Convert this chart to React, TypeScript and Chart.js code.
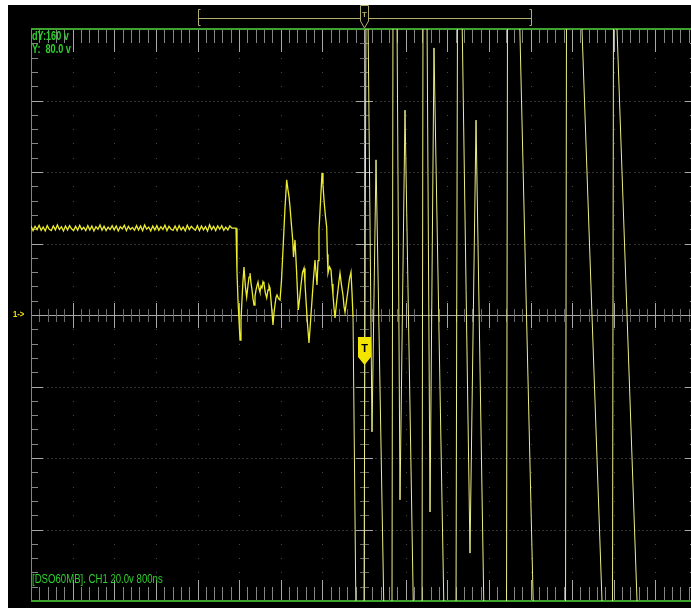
import { useEffect, useRef } from "react";
import { Chart, registerables } from "chart.js";

Chart.register(...registerables);

// Scope settings
const TIME_PER_DIV_NS = 800;
const VOLTS_PER_DIV = 20;
const H_DIVS = 16;
const V_DIVS = 8;
const SUBDIVS = 5;

const STATUS_LINES = ["dY:160 v", "Y:  80.0 v"];
const FOOTER_LABEL = "[DSO60MB]. CH1 20.0v 800ns";
const CHANNEL_MARK = "1->";
const TRIGGER_MARK = "T";

// Idle level before the event, one sample every 39 ns from the left edge
const IDLE_START_NS = -6400;
const IDLE_STEP_NS = 39;
const IDLE_VOLTS = [
  24.9, 23.6, 24.8, 23.9, 25.1, 23.7, 24.6, 23.5, 25.0, 24.0,
  23.6, 24.9, 23.8, 25.2, 23.9, 24.7, 23.5, 24.9, 23.8, 25.0,
  24.1, 23.6, 24.8, 23.7, 25.1, 23.9, 24.5, 23.6, 25.0, 23.8,
  24.9, 23.5, 24.7, 24.0, 25.2, 23.7, 24.8, 23.6, 24.6, 23.9,
  25.0, 23.8, 24.9, 23.5, 24.7, 24.1, 25.1, 23.6, 24.8, 23.9,
  24.5, 23.7, 25.0, 23.8, 24.9, 23.6, 25.2, 24.0, 24.6, 23.5,
  24.9, 23.8, 25.0, 23.7, 24.7, 23.9, 25.1, 23.6, 24.8, 24.0,
  23.7, 24.9, 23.6, 25.0, 23.8, 24.6, 23.5, 25.1, 23.9, 24.8,
  24.2, 23.7, 25.0, 23.6, 24.9, 23.8, 24.7, 23.5, 25.2, 23.9,
  24.8, 23.6, 24.9, 24.0, 25.0, 23.7, 24.6, 23.8, 24.9, 24.3,
];

// Ringing after the first drop
const RING_TIMES_NS = [
  -2460, -2441, -2422, -2383, -2364, -2345, -2326, -2306, -2280, -2255,
  -2229, -2210, -2191, -2172, -2152, -2133, -2114, -2095, -2075, -2056,
  -2037, -2018, -1999, -1980, -1960, -1941, -1922, -1896, -1870, -1845,
  -1826, -1807, -1778, -1749, -1730, -1711, -1691, -1672, -1643, -1614,
  -1585, -1557, -1520, -1486, -1461, -1441, -1422, -1396, -1370, -1355,
  -1340, -1326, -1297, -1263, -1237, -1211, -1182, -1153, -1134, -1115,
  -1086, -1057, -1028, -999, -970, -942, -922, -903, -884, -865,
  -836, -807, -788, -769, -743, -717, -705, -692, -663, -634,
  -615, -596, -577, -557, -528, -500, -480, -461, -432, -404,
  -384, -365, -336, -307, -279, -250, -230, -211,
];
const RING_VOLTS = [
  24.3, 12.0, 4.2, -7.0, -1.5, 4.2, 9.5, 13.4, 8.0, 5.0,
  8.4, 10.6, 11.7, 9.0, 7.0, 4.5, 2.8, 5.2, 7.0, 8.2,
  9.2, 7.4, 6.4, 8.1, 7.6, 9.3, 8.7, 6.2, 4.8, 7.0,
  8.3, 7.6, 2.5, -2.8, 0.6, 2.8, 4.9, 5.6, 4.6, 4.2,
  9.8, 18.2, 29.5, 37.8, 35.0, 33.1, 30.2, 25.5, 21.0, 16.2,
  18.8, 21.0, 12.6, 1.4, 4.6, 8.4, 11.9, 13.1, 8.8, 4.2,
  -2.5, -7.8, -1.9, 4.2, 10.3, 15.4, 11.8, 8.4, 15.2, 23.8,
  31.6, 39.7, 36.4, 32.2, 27.9, 24.6, 17.0, 11.7, 13.5, 12.6,
  8.7, 5.6, 2.1, -0.8, 3.4, 7.0, 9.6, 11.7, 8.3, 5.6,
  2.4, 0.8, 3.9, 7.0, 10.2, 12.0, 6.1, -0.6,
];

// Swing after the trigger; ±84 V is past the edge of the screen
const SWING_TIMES_NS = [
  -154, 0, 38, 77, 154, 231, 384, 538, 557, 634,
  692, 788, 951, 1115, 1134, 1211, 1269, 1345, 1538, 1768,
  1797, 1884, 2037, 2153, 2306, 2739, 2758, 2989, 3258, 3873,
  3892, 4180, 4584, 4776, 4795, 4853, 5257, 6458,
];
const SWING_VOLTS = [
  -84, -84, 84, 84, -32.7, 43.4, -84, -84, 84, 84,
  -51.7, 57.3, -84, -84, 84, 84, -55.1, 74.7, -84, -84,
  84, 84, -66.6, 54.5, -84, -84, 84, 84, -84, -84,
  84, 84, -84, -84, 84, 84, -84, -84,
];

const COLORS = {
  screen: "#000000",
  gridDot: "#484848",
  gridDash: "#333333",
  axis: "#a8a8a8",
  axisMinor: "#6a6a6a",
  tick: "#858585",
  tickMajor: "#a8a8a8",
  frame: "#3fa42f",
  text: "#2fcf2f",
  trace: "#ecec30",
  traceFast: "#eeee86",
  marker: "#f2e600",
  bracket: "#b4ae6e",
};

const TEXT_FONT = '"Liberation Sans", Arial, sans-serif';

// Draw text squeezed horizontally, like the scope's narrow readout font
function narrowText(ctx: CanvasRenderingContext2D, s: string, x: number, y: number, squeeze: number) {
  ctx.save();
  ctx.translate(x, y);
  ctx.scale(squeeze, 1);
  ctx.fillText(s, 0, 0);
  ctx.restore();
}

const scopeScreen = {
  id: "scopeScreen",
  beforeDraw(chart: any) {
    const { ctx, width, height } = chart;
    ctx.save();
    ctx.fillStyle = COLORS.screen;
    ctx.fillRect(0, 0, width, height);
    ctx.restore();
  },
  beforeDatasetsDraw(chart: any) {
    const { ctx, chartArea: a } = chart;
    const xs = chart.scales.x;
    const ys = chart.scales.y;
    const px = (t: number) => Math.round(xs.getPixelForValue(t));
    const py = (v: number) => Math.round(ys.getPixelForValue(v));
    const x0 = xs.min;
    const y0 = ys.min;
    const xMinor = TIME_PER_DIV_NS / SUBDIVS;
    const yMinor = VOLTS_PER_DIV / SUBDIVS;
    const cx = px(0);
    const cy = py(0);

    ctx.save();
    // dotted graticule
    ctx.fillStyle = COLORS.gridDot;
    for (let i = 1; i < H_DIVS; i++) {
      if (i === H_DIVS / 2) continue;
      const gx = px(x0 + i * TIME_PER_DIV_NS);
      for (let j = 1; j < V_DIVS * SUBDIVS; j++) {
        ctx.fillRect(gx, py(y0 + j * yMinor), 1, 1);
      }
    }
    ctx.fillStyle = COLORS.gridDash;
    for (let j = 1; j < V_DIVS; j++) {
      if (j === V_DIVS / 2) continue;
      const gy = py(y0 + j * VOLTS_PER_DIV);
      for (let i = 1; i < H_DIVS * SUBDIVS * 2; i++) {
        ctx.fillRect(px(x0 + (i * xMinor) / 2) - 1, gy, 2, 1);
      }
    }

    // centre cross
    ctx.lineWidth = 1;
    ctx.strokeStyle = COLORS.axis;
    ctx.beginPath();
    ctx.moveTo(a.left, cy + 0.5);
    ctx.lineTo(a.right, cy + 0.5);
    ctx.moveTo(cx + 0.5, a.top);
    ctx.lineTo(cx + 0.5, a.bottom);
    ctx.stroke();

    const line = (x1: number, y1: number, x2: number, y2: number, color: string) => {
      ctx.strokeStyle = color;
      ctx.beginPath();
      ctx.moveTo(x1, y1);
      ctx.lineTo(x2, y2);
      ctx.stroke();
    };

    for (let i = 1; i < H_DIVS * SUBDIVS; i++) {
      const tx = px(x0 + i * xMinor) + 0.5;
      const major = i % SUBDIVS === 0;
      const half = major ? 12 : 6;
      line(tx, cy - half, tx, cy + half + 1, major ? COLORS.axis : COLORS.axisMinor);
      // top and bottom edge ticks
      line(tx, a.top, tx, a.top + (major ? 23 : 14), major ? COLORS.tickMajor : COLORS.tick);
      line(tx, a.bottom, tx, a.bottom - (major ? 21 : 14), major ? COLORS.tickMajor : COLORS.tick);
    }
    for (let j = 1; j < V_DIVS * SUBDIVS; j++) {
      const ty = py(y0 + j * yMinor) + 0.5;
      const major = j % SUBDIVS === 0;
      const half = major ? 8 : 4;
      line(cx - half, ty, cx + half + 1, ty, major ? COLORS.axis : COLORS.axisMinor);
      // left and right edge ticks
      line(a.left, ty, a.left + (major ? 12 : 7), ty, major ? COLORS.tickMajor : COLORS.tick);
      line(a.right, ty, a.right - (major ? 12 : 7), ty, major ? COLORS.tickMajor : COLORS.tick);
    }

    // frame
    line(a.left + 0.5, a.top, a.left + 0.5, a.bottom, COLORS.tick);
    line(a.right - 0.5, a.top, a.right - 0.5, a.bottom, COLORS.tick);
    ctx.fillStyle = COLORS.frame;
    ctx.fillRect(a.left, a.top - 1, a.right - a.left, 2);
    ctx.fillRect(a.left, a.bottom - 1, a.right - a.left, 2);
    ctx.restore();
  },
  afterDraw(chart: any) {
    const { ctx, chartArea: a } = chart;
    const xs = chart.scales.x;
    const ys = chart.scales.y;
    const cx = Math.round(xs.getPixelForValue(0));
    const cy = Math.round(ys.getPixelForValue(0));

    ctx.save();
    // record window bracket above the screen
    const quarter = (a.right - a.left) / 4;
    const bl = Math.round(cx - quarter) + 0.5;
    const br = Math.round(cx + quarter) + 0.5;
    const by = a.top - 10.5;
    ctx.strokeStyle = COLORS.bracket;
    ctx.lineWidth = 1;
    ctx.beginPath();
    ctx.moveTo(bl + 2, a.top - 19.5);
    ctx.lineTo(bl, a.top - 19.5);
    ctx.lineTo(bl, a.top - 3.5);
    ctx.lineTo(bl + 2, a.top - 3.5);
    ctx.moveTo(br - 2, a.top - 19.5);
    ctx.lineTo(br, a.top - 19.5);
    ctx.lineTo(br, a.top - 3.5);
    ctx.lineTo(br - 2, a.top - 3.5);
    ctx.moveTo(bl, by);
    ctx.lineTo(cx - 4, by);
    ctx.moveTo(cx + 5, by);
    ctx.lineTo(br, by);
    ctx.stroke();

    // trigger position flag
    ctx.fillStyle = COLORS.screen;
    ctx.beginPath();
    ctx.moveTo(cx - 3.5, a.top - 23.5);
    ctx.lineTo(cx + 4.5, a.top - 23.5);
    ctx.lineTo(cx + 4.5, a.top - 8);
    ctx.lineTo(cx + 0.5, a.top - 1);
    ctx.lineTo(cx - 3.5, a.top - 8);
    ctx.closePath();
    ctx.fill();
    ctx.stroke();
    ctx.fillStyle = COLORS.bracket;
    ctx.font = "bold 8px " + TEXT_FONT;
    ctx.textAlign = "center";
    ctx.textBaseline = "alphabetic";
    ctx.fillText(TRIGGER_MARK, cx + 0.5, a.top - 12);

    // trigger level flag
    ctx.fillStyle = COLORS.marker;
    ctx.beginPath();
    ctx.moveTo(cx - 6, cy + 22);
    ctx.lineTo(cx + 7, cy + 22);
    ctx.lineTo(cx + 7, cy + 42);
    ctx.lineTo(cx + 0.5, cy + 50);
    ctx.lineTo(cx - 6, cy + 42);
    ctx.closePath();
    ctx.fill();
    ctx.fillStyle = "#000000";
    ctx.font = "bold 11px " + TEXT_FONT;
    ctx.fillText(TRIGGER_MARK, cx + 0.5, cy + 37);

    // channel ground marker
    ctx.fillStyle = COLORS.marker;
    ctx.font = "bold 9px " + TEXT_FONT;
    ctx.textAlign = "left";
    ctx.textBaseline = "middle";
    narrowText(ctx, CHANNEL_MARK, a.left - 18, cy, 0.85);

    // readouts
    ctx.fillStyle = COLORS.text;
    ctx.textBaseline = "alphabetic";
    ctx.font = "bold 12px " + TEXT_FONT;
    STATUS_LINES.forEach((s, i) => narrowText(ctx, s, a.left + 1, a.top + 11 + i * 13, 0.76));
    ctx.font = "12px " + TEXT_FONT;
    narrowText(ctx, FOOTER_LABEL, a.left + 1, a.bottom - 18, 0.8);
    ctx.restore();
  },
};

export default function App() {
  const canvasRef = useRef<HTMLCanvasElement | null>(null);

  useEffect(() => {
    const canvas = canvasRef.current;
    if (!canvas) return;

    const idle = IDLE_VOLTS.map((v, i) => ({ x: IDLE_START_NS + i * IDLE_STEP_NS, y: v }));
    const ring = RING_TIMES_NS.map((t, i) => ({ x: t, y: RING_VOLTS[i] }));
    const before = [...idle, ...ring];
    const after = [before[before.length - 1], ...SWING_TIMES_NS.map((t, i) => ({ x: t, y: SWING_VOLTS[i] }))];

    const chart = new Chart(canvas, {
      type: "scatter",
      data: {
        datasets: [
          {
            label: "CH1 before trigger",
            data: before,
            showLine: true,
            borderColor: COLORS.trace,
            borderWidth: 1.3,
            pointRadius: 0,
            tension: 0,
          },
          {
            label: "CH1 after trigger",
            data: after,
            showLine: true,
            borderColor: COLORS.traceFast,
            borderWidth: 1,
            pointRadius: 0,
            tension: 0,
          },
        ],
      },
      options: {
        animation: false,
        responsive: false,
        maintainAspectRatio: false,
        events: [],
        layout: { padding: { left: 23, top: 24, right: 1, bottom: 7 } },
        plugins: { legend: { display: false }, tooltip: { enabled: false } },
        scales: {
          x: {
            type: "linear",
            display: false,
            min: -(H_DIVS / 2) * TIME_PER_DIV_NS,
            max: (H_DIVS / 2) * TIME_PER_DIV_NS,
          },
          y: {
            type: "linear",
            display: false,
            min: -(V_DIVS / 2) * VOLTS_PER_DIV,
            max: (V_DIVS / 2) * VOLTS_PER_DIV,
          },
        },
      },
      plugins: [scopeScreen],
    });

    return () => chart.destroy();
  }, []);

  return (
    <div
      style={{
        position: "fixed",
        left: 8,
        top: 5,
        width: 683,
        height: 603,
        overflow: "hidden",
        background: "#000",
      }}
    >
      <canvas ref={canvasRef} width={690} height={603} style={{ display: "block" }} />
    </div>
  );
}
